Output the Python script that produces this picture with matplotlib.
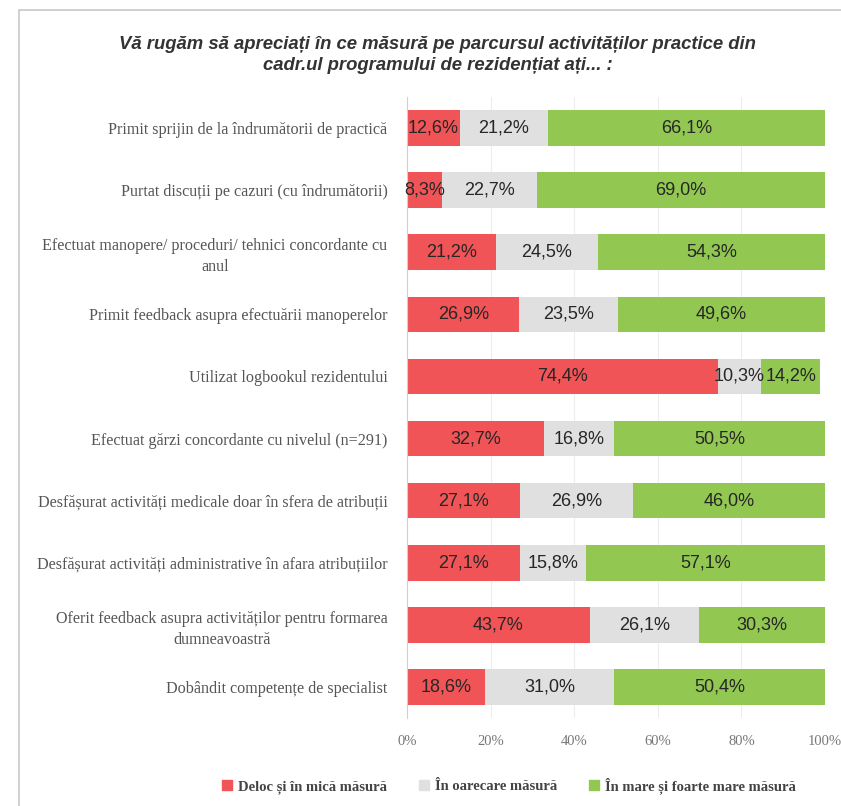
import matplotlib.pyplot as plt
import matplotlib.patches as mpatches
import numpy as np

# ---------------------------------------------------
# date
# ---------------------------------------------------
categories = [
    "Primit sprijin de la îndrumătorii de practică",
    "Purtat discuții pe cazuri (cu îndrumătorii)",
    "Efectuat manopere/ proceduri/ tehnici concordante cu\nanul",
    "Primit feedback asupra efectuării manoperelor",
    "Utilizat logbookul rezidentului",
    "Efectuat gărzi concordante cu nivelul (n=291)",
    "Desfășurat activități medicale doar în sfera de atribuții",
    "Desfășurat activități administrative în afara atribuțiilor",
    "Oferit feedback asupra activităților pentru formarea\ndumneavoastră",
    "Dobândit competențe de specialist",
]
deloc = [12.6, 8.3, 21.2, 26.9, 74.4, 32.7, 27.1, 27.1, 43.7, 18.6]
oarecare = [21.2, 22.7, 24.5, 23.5, 10.3, 16.8, 26.9, 15.8, 26.1, 31.0]
mare = [66.1, 69.0, 54.3, 49.6, 14.2, 50.5, 46.0, 57.1, 30.3, 50.4]
series_names = ["Deloc și în mică măsură", "În oarecare măsură",
                "În mare și foarte mare măsură"]
colors = ["#F05456", "#E0E0E0", "#92C852"]

serif = ["Liberation Serif", "DejaVu Serif"]
sans = ["Liberation Sans", "DejaVu Sans"]

# ---------------------------------------------------
# grafic
# ---------------------------------------------------
fig = plt.figure(figsize=(8.41, 8.06), dpi=100)
ax = fig.add_axes([0.484, 0.109, 0.497, 0.771])

y = np.arange(len(categories))
left = np.zeros(len(categories))
for vals, name, col in zip([deloc, oarecare, mare], series_names, colors):
    bars = ax.barh(y, vals, left=left, height=0.57, color=col, label=name)
    for b, v in zip(bars, vals):
        ax.text(b.get_x() + b.get_width() / 2, b.get_y() + b.get_height() / 2,
                f"{v:.1f}%".replace(".", ","), ha="center", va="center",
                fontsize=13, color="#262626", family=sans)
    left += np.array(vals)

ax.set_xlim(0, 100)
ax.set_ylim(len(categories) - 0.5, -0.5)
ax.set_yticks(y)
ax.set_yticklabels(categories, family=serif, fontsize=11.6, color="#555555",
                   ha="right", multialignment="center", linespacing=1.45)
ax.set_xticks(np.arange(0, 101, 20))
ax.set_xticklabels([f"{v}%" for v in range(0, 101, 20)], family=serif,
                   fontsize=10.5, color="#777777")
ax.tick_params(length=0, pad=12)
ax.tick_params(axis="y", pad=14)
ax.grid(axis="x", color="#EDEDED", linewidth=0.8)
ax.set_axisbelow(True)
for s in ["top", "right", "bottom"]:
    ax.spines[s].set_visible(False)
ax.spines["left"].set_color("#D0D0D0")

fig.text(0.52, 0.955, "Vă rugăm să apreciați în ce măsură pe parcursul activităților practice din\n"
         "cadr.ul programului de rezidențiat ați... :", ha="center", va="top",
         fontsize=13.3, style="italic", weight="bold", color="#333333",
         family=sans, linespacing=1.25)

handles = [mpatches.Patch(color=c) for c in colors]
fig.legend(handles, series_names, loc="center", bbox_to_anchor=(0.605, 0.025),
           ncol=3, frameon=False, handlelength=0.7, handleheight=0.7,
           handletextpad=0.4, columnspacing=2.2,
           prop={"family": serif, "size": 10.5, "weight": "bold"},
           labelcolor="#444444")

# chenar
fig.add_artist(mpatches.Rectangle((0.022, -0.05), 1.0, 1.037, transform=fig.transFigure,
                                  fill=False, edgecolor="#C8C8C8", linewidth=1.2))

plt.savefig("out.png", dpi=100)
